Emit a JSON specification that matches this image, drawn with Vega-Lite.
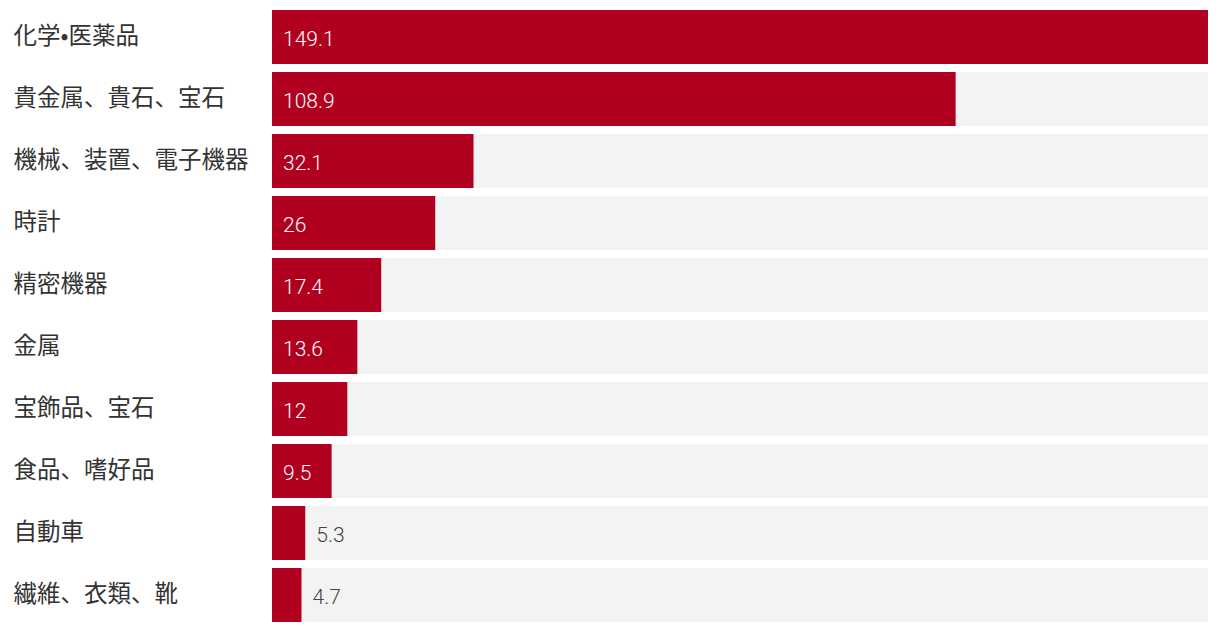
{
  "$schema": "https://vega.github.io/schema/vega-lite/v6.json",
  "autosize": "none",
  "width": 936,
  "height": 620,
  "padding": {"left": 272, "top": 6, "right": 12, "bottom": 6},
  "background": "white",
  "config": {"view": {"stroke": null}},
  "data": {"values": [
    {"c": "化学•医薬品", "v": 149.1},
    {"c": "貴金属、貴石、宝石", "v": 108.9},
    {"c": "機械、装置、電子機器", "v": 32.1},
    {"c": "時計", "v": 26},
    {"c": "精密機器", "v": 17.4},
    {"c": "金属", "v": 13.6},
    {"c": "宝飾品、宝石", "v": 12},
    {"c": "食品、嗜好品", "v": 9.5},
    {"c": "自動車", "v": 5.3},
    {"c": "繊維、衣類、靴", "v": 4.7}
  ]},
  "encoding": {
    "y": {"field": "c", "type": "nominal", "sort": null,
      "scale": {"paddingInner": 0.129, "paddingOuter": 0.0645},
      "axis": {"title": null, "domain": false, "ticks": false, "tickSize": 0,
        "labelAlign": "left", "labelPadding": 259, "labelFontSize": 23.5,
        "labelFont": "Noto Sans CJK JP", "labelColor": "#333333", "labelLimit": 265}}
  },
  "layer": [
    {"mark": {"type": "bar", "color": "#f3f3f3"},
     "encoding": {"x": {"datum": 149.1, "type": "quantitative",
       "scale": {"domain": [0, 149.1], "nice": false, "zero": true}, "axis": null}}},
    {"mark": {"type": "bar", "color": "#b1001f"},
     "encoding": {"x": {"field": "v", "type": "quantitative", "axis": null}}},
    {"transform": [{"filter": "datum.v >= 9"}],
     "mark": {"type": "text", "align": "left", "baseline": "middle", "dx": 11, "dy": 3,
       "font": "Roboto", "fontWeight": 300, "fontSize": 21, "color": "white"},
     "encoding": {"x": {"datum": 0, "type": "quantitative"}, "text": {"field": "v"}}},
    {"transform": [{"filter": "datum.v < 9"}],
     "mark": {"type": "text", "align": "left", "baseline": "middle", "dx": 11, "dy": 3,
       "font": "Roboto", "fontWeight": 300, "fontSize": 21, "color": "#444444"},
     "encoding": {"x": {"field": "v", "type": "quantitative"}, "text": {"field": "v"}}}
  ]
}
